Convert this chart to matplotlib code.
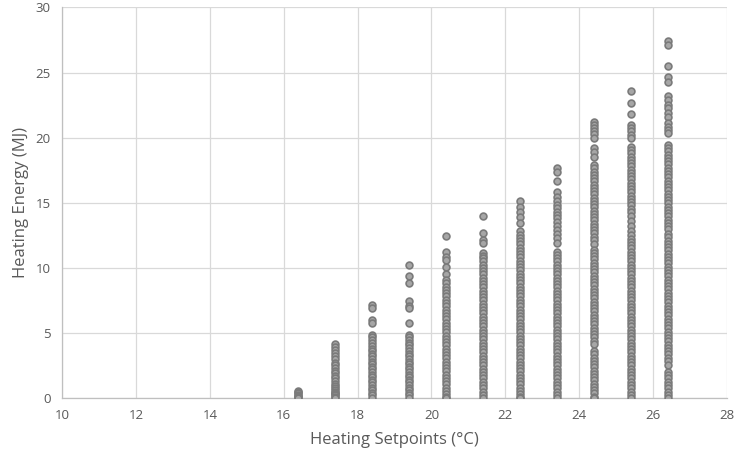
import matplotlib
matplotlib.use("Agg")
import matplotlib.pyplot as plt

setpoints = [16.4, 17.4, 18.4, 19.4, 20.4, 21.4, 22.4, 23.4, 24.4, 25.4, 26.4]

e164 = [0.55, 0.45, 0.35, 0.25, 0.15, 0.05, 0.0]
e174 = [4.15, 3.9, 3.7, 3.45, 3.25, 3.0, 2.7, 2.5, 2.3, 2.1, 1.9, 1.7, 1.5, 1.3,
        1.1, 0.95, 0.8, 0.65, 0.5, 0.4, 0.3, 0.2, 0.1, 0.0]
e184 = [7.15, 6.9, 6.0, 5.75, 4.85, 4.65, 4.45, 4.25, 4.0, 3.8, 3.6, 3.4, 3.2, 3.0,
        2.8, 2.6, 2.4, 2.2, 2.0, 1.8, 1.6, 1.4, 1.2, 1.0, 0.8, 0.6, 0.4, 0.2, 0.0]
e194 = [10.2, 9.4, 8.85, 7.45, 7.1, 6.9, 5.75, 4.85, 4.65, 4.45, 4.25, 4.05, 3.85,
        3.6, 3.4, 3.2, 3.0, 2.8, 2.6, 2.4, 2.2, 2.0, 1.8, 1.6, 1.4, 1.2, 1.0, 0.8,
        0.6, 0.4, 0.2, 0.0]
e204 = [12.45, 11.2, 10.85, 10.6, 10.1, 9.5, 9.1, 8.85, 8.55, 8.3, 8.05, 7.8, 7.55,
        7.3, 7.05, 6.8, 6.55, 6.3, 6.05, 5.8, 5.55, 5.3, 5.05, 4.8, 4.55, 4.3, 4.05,
        3.8, 3.55, 3.3, 3.05, 2.8, 2.55, 2.3, 2.05, 1.8, 1.55, 1.3, 1.05, 0.8, 0.55,
        0.3, 0.05, 0.0]
e214 = [14.0, 12.7, 12.15, 11.9, 11.15, 10.9, 10.75, 10.5, 10.25, 10.0, 9.75, 9.5,
        9.25, 9.0, 8.75, 8.5, 8.25, 8.0, 7.75, 7.5, 7.25, 7.0, 6.75, 6.5, 6.25, 6.0,
        5.75, 5.5, 5.25, 5.0, 4.75, 4.5, 4.25, 4.0, 3.75, 3.5, 3.25, 3.0, 2.75, 2.5,
        2.25, 2.0, 1.75, 1.5, 1.25, 1.0, 0.75, 0.5, 0.25, 0.0]
e224 = [15.1, 14.7, 14.3, 13.9, 13.45, 12.8, 12.55, 12.3, 12.05, 11.8, 11.55, 11.3,
        11.05, 10.8, 10.55, 10.3, 10.05, 9.8, 9.55, 9.3, 9.05, 8.8, 8.55, 8.3, 8.05,
        7.8, 7.55, 7.3, 7.05, 6.8, 6.55, 6.3, 6.05, 5.8, 5.55, 5.3, 5.05, 4.8, 4.55,
        4.3, 4.05, 3.8, 3.55, 3.3, 3.05, 2.8, 2.55, 2.3, 2.05, 1.8, 1.55, 1.3, 1.05,
        0.8, 0.55, 0.3, 0.05, 0.0]
e234 = [17.7, 17.4, 16.7, 15.8, 15.45, 15.1, 14.85, 14.6, 14.3, 14.05, 13.8, 13.5,
        13.2, 12.9, 12.6, 12.3, 11.9, 11.25, 11.0, 10.75, 10.5, 10.25, 10.0, 9.75,
        9.5, 9.25, 9.0, 8.75, 8.5, 8.25, 8.0, 7.75, 7.5, 7.25, 7.0, 6.75, 6.5, 6.25,
        6.0, 5.75, 5.5, 5.25, 5.0, 4.75, 4.5, 4.25, 4.0, 3.75, 3.5, 3.25, 3.0, 2.75,
        2.5, 2.25, 2.0, 1.75, 1.5, 1.25, 1.0, 0.75, 0.5, 0.25, 0.0]
e244 = [21.2, 21.0, 20.75, 20.5, 20.25, 20.0, 19.2, 18.9, 18.5, 17.9, 17.65, 17.4,
        17.15, 16.9, 16.65, 16.4, 16.15, 15.9, 15.65, 15.4, 15.15, 14.9, 14.65,
        14.4, 14.15, 13.9, 13.65, 13.4, 13.15, 12.9, 12.65, 12.4, 12.15, 11.85,
        11.4, 11.15, 10.9, 10.65, 10.4, 10.15, 9.9, 9.65, 9.4, 9.15, 8.9, 8.65, 8.4,
        8.15, 7.9, 7.65, 7.4, 7.15, 6.9, 6.65, 6.4, 6.15, 5.9, 5.65, 5.4, 5.15, 4.9,
        4.65, 4.4, 4.15, 3.6, 3.35, 3.1, 2.85, 2.6, 2.35, 2.1, 1.85, 1.6, 1.35, 1.1,
        0.85, 0.6, 0.35, 0.1, 0.0]
e254 = [23.6, 22.7, 21.8, 21.0, 20.75, 20.5, 20.2, 20.0, 19.3, 19.05, 18.8, 18.55,
        18.3, 18.05, 17.8, 17.55, 17.3, 17.05, 16.8, 16.55, 16.3, 16.05, 15.8, 15.55,
        15.3, 15.05, 14.8, 14.55, 14.3, 14.0, 13.6, 13.2, 12.8, 12.5, 12.25, 12.0,
        11.75, 11.5, 11.25, 11.0, 10.75, 10.5, 10.25, 10.0, 9.75, 9.5, 9.25, 9.0,
        8.75, 8.5, 8.25, 8.0, 7.75, 7.5, 7.25, 7.0, 6.75, 6.5, 6.25, 6.0, 5.75, 5.5,
        5.25, 5.0, 4.75, 4.5, 4.25, 4.0, 3.75, 3.5, 3.25, 3.0, 2.75, 2.5, 2.25, 2.0,
        1.75, 1.5, 1.25, 1.0, 0.75, 0.5, 0.25, 0.0]
e264 = [27.45, 27.15, 25.5, 24.65, 24.25, 23.2, 22.9, 22.5, 22.25, 21.9, 21.6, 21.1,
        20.85, 20.6, 20.35, 19.45, 19.2, 18.95, 18.7, 18.45, 18.2, 17.95, 17.7, 17.45,
        17.2, 16.95, 16.7, 16.45, 16.2, 15.95, 15.7, 15.45, 15.2, 14.95, 14.7, 14.45,
        14.2, 13.95, 13.7, 13.45, 13.2, 12.95, 12.6, 12.35, 12.1, 11.85, 11.6, 11.35,
        11.1, 10.85, 10.6, 10.35, 10.1, 9.85, 9.6, 9.35, 9.1, 8.85, 8.6, 8.35, 8.1,
        7.85, 7.6, 7.35, 7.1, 6.85, 6.6, 6.35, 6.1, 5.85, 5.6, 5.35, 5.1, 4.85, 4.6,
        4.35, 4.1, 3.85, 3.6, 3.35, 3.1, 2.85, 2.5, 2.0, 1.75, 1.5, 1.25, 1.0, 0.75,
        0.5, 0.25, 0.0]

energies = [e164, e174, e184, e194, e204, e214, e224, e234, e244, e254, e264]

x_ticks = [10, 12, 14, 16, 18, 20, 22, 24, 26, 28]
y_ticks = [0, 5, 10, 15, 20, 25, 30]

plt.rcParams['font.family'] = ['Open Sans', 'DejaVu Sans']

fig = plt.figure(figsize=(7.34, 4.54), dpi=100)
ax = fig.add_axes([0.0845, 0.1233, 0.906, 0.8602])

for sp, vals in zip(setpoints, energies):
    ax.scatter([sp] * len(vals), vals, s=24, facecolor='#A6A6A6',
               edgecolor='#7A7A7A', linewidth=1.2, zorder=3)

ax.set_xlim(10, 28)
ax.set_ylim(0, 30)
ax.set_xticks(x_ticks)
ax.set_yticks(y_ticks)
ax.grid(True, color='#D9D9D9', linewidth=0.9, zorder=0)
ax.set_axisbelow(True)
for s in ['top', 'right']:
    ax.spines[s].set_visible(False)
for s in ['left', 'bottom']:
    ax.spines[s].set_color('#BFBFBF')
    ax.spines[s].set_linewidth(0.9)
ax.tick_params(length=0, labelsize=9.5, labelcolor='#595959', pad=8)
ax.set_xlabel('Heating Setpoints (°C)', fontsize=12, color='#595959', labelpad=7)
ax.set_ylabel('Heating Energy (MJ)', fontsize=12, color='#595959', labelpad=5)

fig.savefig('out.png', dpi=100)
